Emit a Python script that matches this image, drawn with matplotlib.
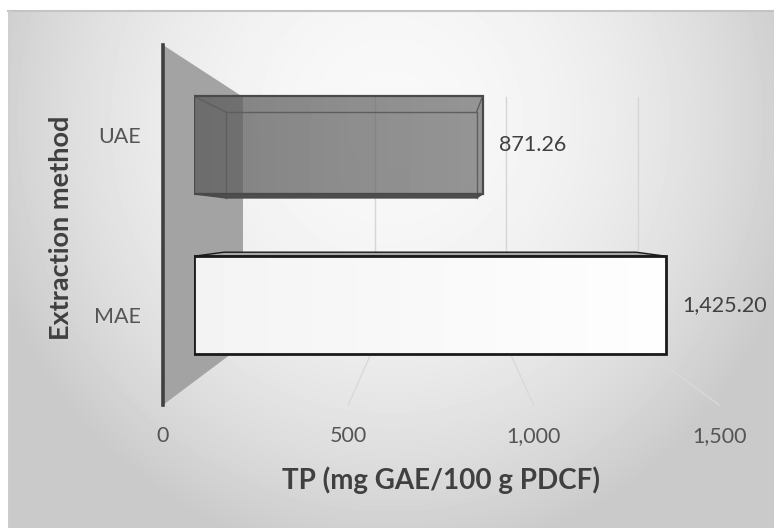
import numpy as np
import matplotlib
matplotlib.use("Agg")
import matplotlib.pyplot as plt
from matplotlib.patches import Polygon, Rectangle

plt.rcParams["font.family"] = ["Lato", "DejaVu Sans"]

# ---- data ----
categories = ["MAE", "UAE"]
values = [1425.20, 871.26]
x_ticks = [0, 500, 1000, 1500]
x_label = "TP (mg GAE/100 g PDCF)"
y_label = "Extraction method"

W, H = 774, 528
fig = plt.figure(figsize=(W / 100, H / 100), dpi=100, facecolor="white")


def px_axes(x0, y0, x1, y1, z):
    """Axes placed by pixel box (top-left origin)."""
    a = fig.add_axes([x0 / W, 1 - y1 / H, (x1 - x0) / W, (y1 - y0) / H])
    a.set_zorder(z)
    a.patch.set_visible(False)
    return a


# pixel boxes of the three depth planes of the 3-D chart
XMAX = 1500
FRONT = (163, 45, 163 + XMAX * 0.3707, 405)     # axis line / floor front edge
BARS = (194, 65, 194 + XMAX * 0.3312, 385)      # front faces of the bars
BACK = (243, 97, 638, 345)                      # back wall

# ---- background canvas ----
canvas = fig.add_axes([0, 0, 1, 1])
canvas.set_zorder(0)
canvas.set_xlim(0, W)
canvas.set_ylim(H, 0)
canvas.axis("off")
yy, xx = np.mgrid[10:H, 8:W]
d2 = ((xx - 390) / 400.0) ** 2 + ((yy - 120) / 420.0) ** 2
shade = np.clip(0.975 - 0.165 * d2, 0.79, 1.0)
canvas.imshow(shade, cmap="gray", vmin=0, vmax=1, extent=(8, W, H, 10),
              aspect="auto", interpolation="bilinear")
canvas.plot([8, W], [10.5, 10.5], color="#c4c4c4", lw=1.5)
canvas.plot([8.5, 8.5], [10, H], color="#cfcfcf", lw=1.0)
canvas.set_xlim(0, W)
canvas.set_ylim(H, 0)


def plane_x(plane, v):
    x0, _, x1, _ = plane
    return x0 + v / XMAX * (x1 - x0)


# side wall
fx0, ftop, _, fbot = FRONT
bx0, btop, _, bbot = BACK
canvas.add_patch(Polygon([(fx0, ftop), (bx0, btop), (bx0, bbot), (fx0, fbot)],
                         closed=True, facecolor="#a3a3a3", edgecolor="none"))

# back wall gridlines and floor lines
for t in x_ticks[1:]:
    gx = plane_x(BACK, t)
    canvas.plot([gx, gx], [btop, bbot], color="#d6d6d6", lw=1.0)
    canvas.plot([gx, plane_x(FRONT, t)], [bbot, fbot], color="#d9d9d9", lw=1.0)

# ---- front plane: axis line, ticks, titles ----
ax = px_axes(*FRONT, z=1)
ax.set_xlim(0, XMAX)
ax.set_ylim(-0.5, len(categories) - 0.5)
for s in ("top", "right", "bottom"):
    ax.spines[s].set_visible(False)
ax.spines["left"].set_color("#404040")
ax.spines["left"].set_linewidth(2.6)
ax.set_yticks(range(len(categories)))
ax.set_yticklabels(categories)
ax.set_xticks(x_ticks)
ax.set_xticklabels([f"{t:,}" for t in x_ticks])
ax.tick_params(axis="y", length=0, pad=16, labelsize=15.5, labelcolor="#555555")
ax.tick_params(axis="x", length=0, pad=15, labelsize=15.5, labelcolor="#555555")
ax.set_xlabel(x_label, fontsize=20, fontweight="bold", color="#404040")
fh = FRONT[3] - FRONT[1]
ax.xaxis.set_label_coords(0.5, -(466 - FRONT[3]) / fh)
# vertical axis title, centred on the left of the wall
fig.text(61 / W, 1 - 228 / H, y_label, rotation=90, ha="center", va="center",
         fontsize=19.5, fontweight="bold", color="#404040")

# ---- bar plane ----
bx = px_axes(*BARS, z=2)
bx.axis("off")
bar_h = 0.61
sx = XMAX / (BARS[2] - BARS[0])             # data units per pixel (x)
sy = len(categories) / (BARS[3] - BARS[1])  # data units per pixel (y)

bars = bx.barh(range(len(categories)), values, height=bar_h,
               facecolor="none", edgecolor="none")

# MAE: opaque white box with thin top face
mae = bars[0]
v0 = values[0]
top0 = 0 + bar_h / 2
grad = np.linspace(0.955, 0.995, 64)[None, :]
im = bx.imshow(grad, cmap="gray", vmin=0, vmax=1, aspect="auto",
               extent=(0, v0, -bar_h / 2, bar_h / 2), zorder=2)
im.set_clip_path(mae)
bx.add_patch(Rectangle((0, -bar_h / 2), v0, bar_h, facecolor="none",
                       edgecolor="#1a1a1a", lw=2.0, zorder=4))
bx.add_patch(Polygon([(0, top0), (30 * sx, top0 + 4 * sy),
                      (v0 - 30 * sx, top0 + 4 * sy), (v0, top0)],
                     closed=True, facecolor="#a8a8a8", edgecolor="#1a1a1a",
                     lw=1.0, zorder=3))

# UAE: translucent dark box
v1 = values[1]
y1 = 1
ft, fb = y1 + bar_h / 2, y1 - bar_h / 2
grad = np.linspace(0.35, 0.44, 64)[None, :]
im = bx.imshow(grad, cmap="gray", vmin=0, vmax=1, aspect="auto",
               extent=(0, v1, fb - 4 * sy, ft), alpha=0.73, zorder=2)
im.set_clip_path(Polygon([(0, ft), (v1, ft), (v1, fb), (v1 - 6 * sx, fb - 4 * sy),
                          (32 * sx, fb - 4 * sy), (0, fb)], closed=True,
                         transform=bx.transData))
bl, br = 32 * sx, v1 - 6 * sx
bt, bb = ft - 16 * sy, fb - 4 * sy
edge_c = "#4a4a4a"
bx.plot([bl, br, br], [bt, bt, bb], color="#5e5e5e", lw=1.0, zorder=3)
bx.plot([bl, bl], [bt, bb], color="#5e5e5e", lw=1.0, zorder=3)
bx.plot([0, bl], [ft, bt], color="#5e5e5e", lw=1.0, zorder=3)
bx.plot([v1, br], [ft, bt], color="#5e5e5e", lw=1.0, zorder=3)
bx.add_patch(Polygon([(0, fb), (bl, bb), (br, bb), (v1, fb)], closed=True,
                     facecolor="#4f4f4f", edgecolor=edge_c, lw=1.2, zorder=3))
bx.add_patch(Rectangle((0, fb), v1, bar_h, facecolor="none",
                       edgecolor=edge_c, lw=1.6, zorder=4))

# value labels
for i, v in enumerate(values):
    bx.annotate(f"{v:,.2f}", xy=(v, i), xytext=(16, 0), textcoords="offset pixels",
                va="center", ha="left", fontsize=15.5, color="#404040", zorder=5)

bx.set_xlim(0, XMAX)
bx.set_ylim(-0.5, len(categories) - 0.5)

fig.savefig("out.png", dpi=100, facecolor="white")
